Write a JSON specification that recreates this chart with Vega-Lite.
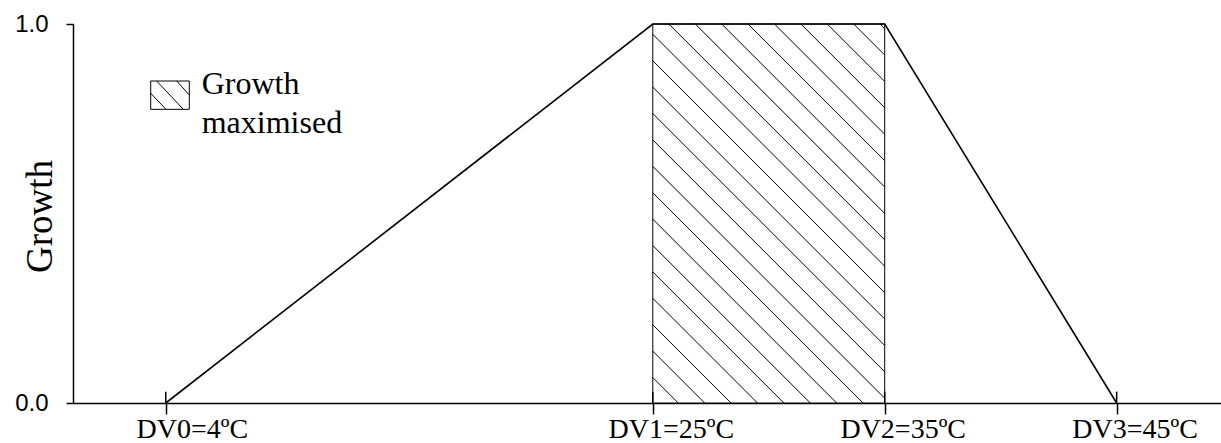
{
  "$schema": "https://vega.github.io/schema/vega-lite/v6.json",
  "autosize": "none",
  "padding": {"left": 73, "top": 24, "right": 0, "bottom": 40},
  "width": 1148,
  "height": 379,
  "background": "white",
  "config": {"view": {"stroke": null}, "axis": {"grid": false}},
  "datasets": {
    "curve": [
      {"x": 4, "y": 0}, {"x": 25, "y": 1}, {"x": 35, "y": 1}, {"x": 45, "y": 0}
    ],
    "box": [{"x": 25, "x2": 35, "y": 0, "y2": 1}],
    "hatch": [
      {"x": 25, "y": 0.0672, "x2": 26.098, "y2": 0},
      {"x": 25, "y": 0.1369, "x2": 27.237, "y2": 0},
      {"x": 25, "y": 0.2065, "x2": 28.375, "y2": 0},
      {"x": 25, "y": 0.2762, "x2": 29.514, "y2": 0},
      {"x": 25, "y": 0.3458, "x2": 30.651, "y2": 0},
      {"x": 25, "y": 0.4155, "x2": 31.79, "y2": 0},
      {"x": 25, "y": 0.4852, "x2": 32.93, "y2": 0},
      {"x": 25, "y": 0.5548, "x2": 34.067, "y2": 0},
      {"x": 25, "y": 0.6245, "x2": 35, "y2": 0.0126},
      {"x": 25, "y": 0.6941, "x2": 35, "y2": 0.0822},
      {"x": 25, "y": 0.7638, "x2": 35, "y2": 0.1519},
      {"x": 25, "y": 0.8335, "x2": 35, "y2": 0.2216},
      {"x": 25, "y": 0.9031, "x2": 35, "y2": 0.2912},
      {"x": 25, "y": 0.9728, "x2": 35, "y2": 0.3609},
      {"x": 25.693, "y": 1, "x2": 35, "y2": 0.4305},
      {"x": 26.832, "y": 1, "x2": 35, "y2": 0.5002},
      {"x": 27.971, "y": 1, "x2": 35, "y2": 0.5699},
      {"x": 29.108, "y": 1, "x2": 35, "y2": 0.6395},
      {"x": 30.247, "y": 1, "x2": 35, "y2": 0.7092},
      {"x": 31.385, "y": 1, "x2": 35, "y2": 0.7788},
      {"x": 32.524, "y": 1, "x2": 35, "y2": 0.8485},
      {"x": 33.663, "y": 1, "x2": 35, "y2": 0.9182},
      {"x": 34.801, "y": 1, "x2": 35, "y2": 0.9878}
    ],
    "innerTicks": [
      {"x": 4, "y": 0, "y2": 0.03},
      {"x": 25, "y": 0, "y2": 0.03},
      {"x": 35, "y": 0, "y2": 0.03},
      {"x": 45, "y": 0, "y2": 0.03}
    ],
    "legendBox": [{"x": 3.351, "x2": 5.015, "y": 0.7749, "y2": 0.8496}],
    "legendHatch": [
      {"x": 3.351, "y": 0.8172, "x2": 4.01, "y2": 0.7749},
      {"x": 3.609, "y": 0.8496, "x2": 4.756, "y2": 0.7749},
      {"x": 4.472, "y": 0.8496, "x2": 5.015, "y2": 0.8127}
    ],
    "legendText": [{"x": 5.55, "y": 0.815, "label": "Growth\nmaximised"}]
  },
  "encoding": {
    "x": {
      "field": "x",
      "type": "quantitative",
      "scale": {"domain": [0, 49.5], "nice": false, "zero": false},
      "axis": {
        "title": null,
        "values": [4, 25, 35, 45],
        "labelExpr": "datum.value == 4 ? 'DV0=4ºC' : datum.value == 25 ? 'DV1=25ºC' : datum.value == 35 ? 'DV2=35ºC' : 'DV3=45ºC'",
        "labelFont": "Liberation Serif",
        "labelFontSize": 28,
        "labelColor": "black",
        "labelFlush": false,
        "labelOverlap": false,
        "labelBound": false,
        "labelPadding": 1,
        "labelOffset": {"condition": {"test": "datum.value == 4", "value": 26}, "value": 18},
        "tickSize": 11,
        "tickWidth": 1.5,
        "tickColor": "black",
        "domainColor": "black",
        "domainWidth": 1.5
      }
    },
    "y": {
      "field": "y",
      "type": "quantitative",
      "scale": {"domain": [0, 1], "nice": false, "zero": false},
      "axis": {
        "title": "Growth",
        "titleFont": "Liberation Serif",
        "titleFontSize": 37,
        "titleFontWeight": "normal",
        "titleColor": "black",
        "titleX": -33,
        "titleY": 192,
        "titleBaseline": "middle",
        "values": [0, 1],
        "format": ".1f",
        "labelFont": "Liberation Sans",
        "labelFontSize": 24,
        "labelColor": "black",
        "labelPadding": 18,
        "tickSize": 7,
        "tickWidth": 1.5,
        "tickColor": "black",
        "domainColor": "black",
        "domainWidth": 1.5
      }
    }
  },
  "layer": [
    {
      "data": {"name": "box"},
      "mark": {"type": "rect", "fill": "white", "stroke": "black", "strokeWidth": 1},
      "encoding": {"x2": {"field": "x2"}, "y2": {"field": "y2"}}
    },
    {
      "data": {"name": "hatch"},
      "mark": {"type": "rule", "color": "black", "strokeWidth": 1},
      "encoding": {"x2": {"field": "x2"}, "y2": {"field": "y2"}}
    },
    {
      "data": {"name": "innerTicks"},
      "mark": {"type": "rule", "color": "black", "strokeWidth": 1.5},
      "encoding": {"y2": {"field": "y2"}}
    },
    {
      "data": {"name": "curve"},
      "mark": {"type": "line", "color": "black", "strokeWidth": 1.6},
      "encoding": {}
    },
    {
      "data": {"name": "legendBox"},
      "mark": {"type": "rect", "fill": "white", "stroke": "black", "strokeWidth": 1},
      "encoding": {"x2": {"field": "x2"}, "y2": {"field": "y2"}}
    },
    {
      "data": {"name": "legendHatch"},
      "mark": {"type": "rule", "color": "black", "strokeWidth": 1},
      "encoding": {"x2": {"field": "x2"}, "y2": {"field": "y2"}}
    },
    {
      "data": {"name": "legendText"},
      "mark": {"type": "text", "align": "left", "baseline": "alphabetic", "font": "Liberation Serif", "fontSize": 32, "lineBreak": "\n", "lineHeight": 39, "color": "black"},
      "encoding": {"text": {"field": "label"}}
    }
  ]
}
